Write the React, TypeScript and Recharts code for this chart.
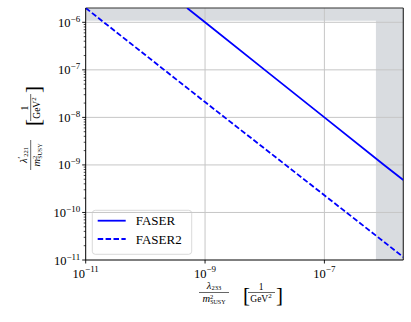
import React from 'react';
import { ComposedChart, Line, XAxis, YAxis, ReferenceLine, ReferenceArea, Customized } from 'recharts';

const X_MIN = 1e-11;
const X_MAX = 2.1e-6;
const Y_MIN = 1e-11;
const Y_MAX = 2e-6;

const xTicks = [1e-11, 1e-9, 1e-7];
const xTickExponents = ['\u221211', '\u22129', '\u22127'];
const yMajorTicks = [1e-11, 1e-10, 1e-9, 1e-8, 1e-7, 1e-6];
const yTickExponents = ['\u221211', '\u221210', '\u22129', '\u22128', '\u22127', '\u22126'];
const yMinorTicks: number[] = [];
for (let e = -11; e <= -7; e++) {
  for (let m = 2; m <= 9; m++) yMinorTicks.push(Number((m * Math.pow(10, e)).toPrecision(3)));
}
const yAllTicks = [...yMajorTicks, ...yMinorTicks].sort((a, b) => a - b);

const faserX = [5e-10, 1e-9, 1e-8, 1e-7, 1e-6, 2.1e-6];
const faserY = [2e-6, 1e-6, 1e-7, 1e-8, 1e-9, 4.8e-10];
const faser2X = [1e-11, 1e-10, 1e-9, 1e-8, 1e-7, 1e-6, 2.1e-6];
const faser2Y = [2e-6, 2.05e-7, 2.1e-8, 2.2e-9, 2.3e-10, 2.4e-11, 1.15e-11];

const excludedTopFrom = 1.08e-6;
const excludedRightFrom = 7.3e-7;

const faserData = faserX.map((x, i) => ({ x, y: faserY[i] }));
const faser2Data = faser2X.map((x, i) => ({ x, y: faser2Y[i] }));

const FONT = '"Liberation Serif", "DejaVu Serif", serif';
const BLUE = '#0000ff';
const GRID = '#c6c6c6';
const SHADE = '#d9dce0';

const YTick = (props: any) => {
  const { x, y, payload } = props;
  const idx = yMajorTicks.indexOf(payload.value);
  if (idx < 0) {
    return <line x1={x} x2={x - 2} y1={y} y2={y} stroke="#000" strokeWidth={0.7} />;
  }
  return (
    <g>
      <line x1={x} x2={x - 3.5} y1={y} y2={y} stroke="#000" strokeWidth={0.9} />
      <text x={x - 5.5} y={y + 4.5} textAnchor="end" fontFamily={FONT} fontSize={12.5} fill="#000">
        <tspan>10</tspan>
        <tspan dy={-5} fontSize={9}>{yTickExponents[idx]}</tspan>
      </text>
    </g>
  );
};

const XTick = (props: any) => {
  const { x, y, payload } = props;
  const idx = xTicks.indexOf(payload.value);
  return (
    <g>
      <line x1={x} x2={x} y1={y} y2={y + 3.5} stroke="#000" strokeWidth={0.9} />
      <text x={x} y={y + 18} textAnchor="middle" fontFamily={FONT} fontSize={12.5} fill="#000">
        <tspan>10</tspan>
        <tspan dy={-6} fontSize={9}>{idx >= 0 ? xTickExponents[idx] : ''}</tspan>
      </text>
    </g>
  );
};

// Axis title drawn in a local frame: fraction bar at w=0, from u=0 to u=30
const AxisTitle = ({ transform, numMain, numSub, prime }: { transform: string; numMain: string; numSub: string; prime?: boolean }) => (
  <g transform={transform} fontFamily={FONT} fill="#000">
    <text x={15} y={-4} textAnchor="middle" fontSize={10.5}>
      <tspan fontStyle="italic">{numMain}</tspan>
      {prime ? <tspan dy={-3} fontSize={7.5}>{'\u2032'}</tspan> : null}
      <tspan dy={prime ? 4.5 : 1.5} fontSize={6.5}>{numSub}</tspan>
    </text>
    <line x1={0} x2={30} y1={0} y2={0} stroke="#000" strokeWidth={0.6} />
    <text x={15} y={9.5} textAnchor="middle" fontSize={10.5}>
      <tspan fontStyle="italic">m</tspan>
      <tspan dy={-3.5} fontSize={6.5}>2</tspan>
      <tspan dx={-3.2} dy={5.5} fontSize={6}>SUSY</tspan>
    </text>
    <text x={44} y={9.5} fontSize={21}>[</text>
    <text x={62} y={-2.5} textAnchor="middle" fontSize={9.5}>1</text>
    <line x1={49} x2={76} y1={0} y2={0} stroke="#000" strokeWidth={0.6} />
    <text x={62} y={9} textAnchor="middle" fontSize={9.5}>
      <tspan>GeV</tspan>
      <tspan dy={-3.5} fontSize={7}>2</tspan>
    </text>
    <text x={77} y={9.5} fontSize={21}>]</text>
  </g>
);

const Extras = () => (
  <g>
    <AxisTitle transform="translate(199,292.5)" numMain={'\u03bb'} numSub="233" />
    <AxisTitle transform="translate(30.7,170) rotate(-90)" numMain={'\u03bb'} numSub="221" prime />
    <g fontFamily={FONT}>
      <rect x={92.3} y={210.3} width={99.4} height={44} rx={3} fill="#fff" fillOpacity={0.85} stroke="#cfcfcf" strokeWidth={0.8} />
      <line x1={97.7} x2={125.7} y1={220.7} y2={220.7} stroke={BLUE} strokeWidth={1.8} />
      <line x1={97.7} x2={125.7} y1={239} y2={239} stroke={BLUE} strokeWidth={1.8} strokeDasharray="5.5 2.4" />
      <text x={135.7} y={225.3} fontSize={13} fill="#000">FASER</text>
      <text x={135.7} y={243.6} fontSize={13} fill="#000">FASER2</text>
    </g>
  </g>
);

export default function App() {
  return (
    <div style={{ position: 'absolute', left: 0, top: 0, width: 411, height: 322, background: '#fff' }}>
      <ComposedChart width={411} height={322} margin={{ top: 8, right: 7.7, bottom: 32, left: 0 }}>
        <XAxis
          dataKey="x"
          type="number"
          scale="log"
          domain={[X_MIN, X_MAX]}
          allowDataOverflow
          ticks={xTicks}
          interval={0}
          height={30}
          tickLine={false}
          tickSize={0}
          tickMargin={0}
          tick={<XTick />}
          axisLine={{ stroke: '#000', strokeWidth: 1 }}
        />
        <YAxis
          dataKey="y"
          type="number"
          scale="log"
          domain={[Y_MIN, Y_MAX]}
          allowDataOverflow
          ticks={yAllTicks}
          interval={0}
          width={85.7}
          tickLine={false}
          tickSize={0}
          tickMargin={0}
          tick={<YTick />}
          axisLine={{ stroke: '#000', strokeWidth: 1 }}
        />
        <ReferenceArea x1={X_MIN} x2={X_MAX} y1={excludedTopFrom} y2={Y_MAX} fill={SHADE} fillOpacity={1} stroke="none" />
        <ReferenceArea x1={excludedRightFrom} x2={X_MAX} y1={Y_MIN} y2={Y_MAX} fill={SHADE} fillOpacity={1} stroke="none" />
        {xTicks.slice(1).map((v) => (
          <ReferenceLine key={'gx' + v} x={v} stroke={GRID} strokeWidth={1} />
        ))}
        {yMajorTicks.slice(1).map((v) => (
          <ReferenceLine key={'gy' + v} y={v} stroke={GRID} strokeWidth={1} />
        ))}
        <ReferenceLine y={Y_MAX} stroke="#333" strokeWidth={1.2} />
        <ReferenceLine x={X_MAX} stroke="#333" strokeWidth={1.2} />
        <Line data={faserData} dataKey="y" type="linear" stroke={BLUE} strokeWidth={1.8} dot={false} isAnimationActive={false} name="FASER" />
        <Line data={faser2Data} dataKey="y" type="linear" stroke={BLUE} strokeWidth={1.8} strokeDasharray="5.5 2.4" dot={false} isAnimationActive={false} name="FASER2" />
        <Customized component={Extras} />
      </ComposedChart>
    </div>
  );
}
